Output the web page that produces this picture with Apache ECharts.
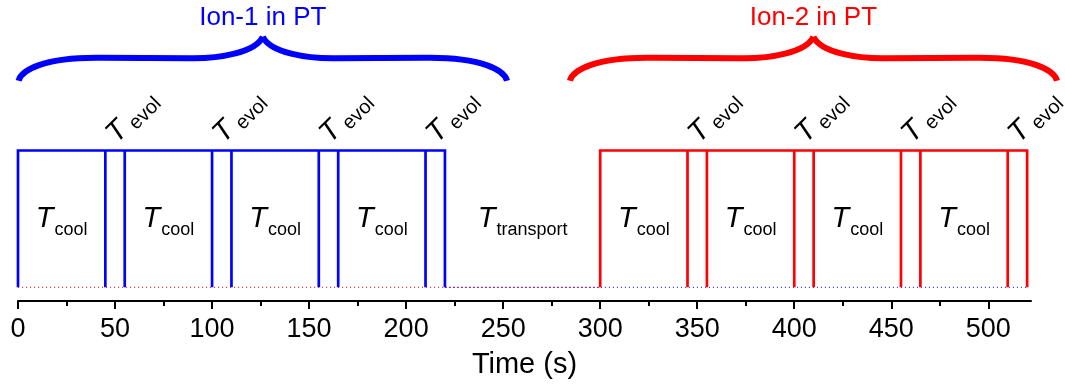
<!DOCTYPE html>
<html>
<head>
<meta charset="utf-8">
<script src="https://cdn.jsdelivr.net/npm/echarts@6/dist/echarts.min.js"></script>
<style>
  html, body { margin: 0; padding: 0; background: #fff; }
  #chart { width: 1065px; height: 385px; }
</style>
</head>
<body>
<div id="chart"></div>
<script>
// switching times in s: trap start, then evolution windows [start, end], last one ends the train
const ion1Edges = [0, 45, 55, 100, 110, 155, 165, 210, 220];
const ion2Edges = [300, 345, 355, 400, 410, 455, 465, 510, 520];
const pulseHigh = 1;
const baseLow = 0;
const timeStart = 0;
const timeEnd = 522;
const majorTicks = [0, 50, 100, 150, 200, 250, 300, 350, 400, 450, 500];
const minorTicks = [25, 75, 125, 175, 225, 275, 325, 375, 425, 475];
const braceSpans = [[0.3, 252], [284.4, 535.4]];
const braceLabels = ['Ion-1 in PT', 'Ion-2 in PT'];

const BLUE = '#0000ff';
const RED = '#ff0000';
const FONT = '"Liberation Sans", Arial, sans-serif';

function pulsePath(edges) {
  const pts = [[edges[0], baseLow], [edges[0], pulseHigh]];
  for (let i = 1; i < edges.length - 1; i++) {
    pts.push([edges[i], pulseHigh], [edges[i], baseLow], [edges[i], pulseHigh]);
  }
  const last = edges[edges.length - 1];
  pts.push([last, pulseHigh], [last, baseLow]);
  return pts;
}

// label items: [x, kind]  kind 0 = cool, 1 = transport, 2 = evol
function labelItems() {
  const items = [];
  [ion1Edges, ion2Edges].forEach((edges) => {
    for (let i = 0; i < edges.length - 1; i += 2) items.push([(edges[i] + edges[i + 1]) / 2, 0]);
    for (let i = 1; i < edges.length; i += 2) items.push([edges[i], 2]);
  });
  items.push([(ion1Edges[ion1Edges.length - 1] + ion2Edges[0]) / 2, 1]);
  return items;
}

const subRich = {
  t: { fontFamily: FONT, fontStyle: 'italic', fontSize: 29, lineHeight: 34, fill: '#000' },
  s: { fontFamily: FONT, fontSize: 18, lineHeight: 22, padding: [22, 0, 0, 1], fill: '#000' }
};
const evolRich = {
  t: { fontFamily: FONT, fontStyle: 'italic', fontSize: 29, lineHeight: 32, fill: '#000' },
  e: { fontFamily: FONT, fontSize: 20, lineHeight: 23, padding: [14, 0, 0, 0], fill: '#000' }
};

function renderLabel(params, api) {
  const x = api.value(0);
  const kind = api.value(1);
  if (kind === 2) {
    const p = api.coord([x, pulseHigh]);
    return {
      type: 'text', x: p[0] + 17, y: p[1] - 1, rotation: Math.PI / 4,
      style: { text: '{t|T}{e| evol}', align: 'left', verticalAlign: 'bottom', rich: evolRich }
    };
  }
  const p = api.coord([x, 0.5]);
  return {
    type: 'text', x: p[0], y: p[1],
    style: { text: kind === 1 ? '{t|T}{s|transport}' : '{t|T}{s|cool}', align: 'center', verticalAlign: 'middle', rich: subRich }
  };
}

function renderBrace(params, api) {
  const i = params.dataIndex;
  const color = i === 0 ? BLUE : RED;
  const pl = api.coord([api.value(0), 1.51]);
  const pr = api.coord([api.value(1), 1.51]);
  const yTip = pl[1];
  const yFlat = yTip - 23;
  const yCusp = yTip - 44;
  const xc = (pl[0] + pr[0]) / 2;
  const w = xc - pl[0];
  const half = (s) => {
    const x0 = xc - s * w;
    const fx = (f) => xc - s * f * w;
    return [
      'M', x0, yTip,
      'C', fx(0.99), yTip - 10, fx(0.9), yFlat - 1, fx(0.66), yFlat,
      'L', fx(0.3), yFlat + 0.5,
      'C', fx(0.18), yFlat + 1, fx(0.03), yFlat - 5, xc, yCusp
    ].join(' ');
  };
  return {
    type: 'group',
    children: [
      { type: 'path', shape: { pathData: half(1) + ' ' + half(-1) }, style: { fill: 'none', stroke: color, lineWidth: 6 } },
      {
        type: 'text', x: xc, y: yCusp - 19,
        style: { text: braceLabels[i], fill: color, fontFamily: FONT, fontSize: 26, align: 'center', verticalAlign: 'middle' }
      }
    ]
  };
}

const chart = echarts.init(document.getElementById('chart'), null, { renderer: 'canvas' });

const gridBox = { left: 18, right: 34, top: 0, bottom: 84 };

chart.setOption({
  animation: false,
  backgroundColor: '#fff',
  grid: [gridBox, gridBox],
  xAxis: [
    {
      type: 'value', gridIndex: 0, min: timeStart, max: timeEnd,
      axisLine: { show: true, onZero: false, lineStyle: { color: '#000', width: 2 } },
      axisTick: { show: true, inside: false, length: 8, customValues: majorTicks, lineStyle: { color: '#000', width: 2 } },
      axisLabel: { customValues: majorTicks, fontSize: 27, color: '#000', fontFamily: FONT, margin: 15 },
      splitLine: { show: false },
      name: 'Time (s)', nameLocation: 'middle', nameGap: 49,
      nameTextStyle: { fontSize: 29, color: '#000', fontFamily: FONT }
    },
    {
      type: 'value', gridIndex: 1, min: timeStart, max: timeEnd,
      axisLine: { show: false, onZero: false },
      axisTick: { show: true, inside: false, length: 5, customValues: minorTicks, lineStyle: { color: '#000', width: 2 } },
      axisLabel: { show: false },
      splitLine: { show: false }
    }
  ],
  yAxis: [
    { type: 'value', gridIndex: 0, min: -0.1, max: 2.1, show: false },
    { type: 'value', gridIndex: 1, min: -0.1, max: 2.1, show: false }
  ],
  series: [
    {
      type: 'line', symbol: 'none',
      data: [[ion1Edges[0], baseLow], [ion2Edges[0], baseLow]],
      lineStyle: { color: RED, width: 1, type: [1, 3] }
    },
    {
      type: 'line', symbol: 'none',
      data: [[ion1Edges[ion1Edges.length - 1], baseLow], [ion2Edges[ion2Edges.length - 1], baseLow]],
      lineStyle: { color: BLUE, width: 1, type: [1, 3] }
    },
    {
      type: 'line', symbol: 'none', data: pulsePath(ion1Edges),
      lineStyle: { color: BLUE, width: 2.7, join: 'miter', cap: 'butt' }
    },
    {
      type: 'line', symbol: 'none', data: pulsePath(ion2Edges),
      lineStyle: { color: RED, width: 2.7, join: 'miter', cap: 'butt' }
    },
    {
      type: 'custom', clip: false, data: labelItems(), renderItem: renderLabel, silent: true
    },
    {
      type: 'custom', clip: false, data: braceSpans, renderItem: renderBrace, silent: true
    }
  ]
});
</script>
</body>
</html>
